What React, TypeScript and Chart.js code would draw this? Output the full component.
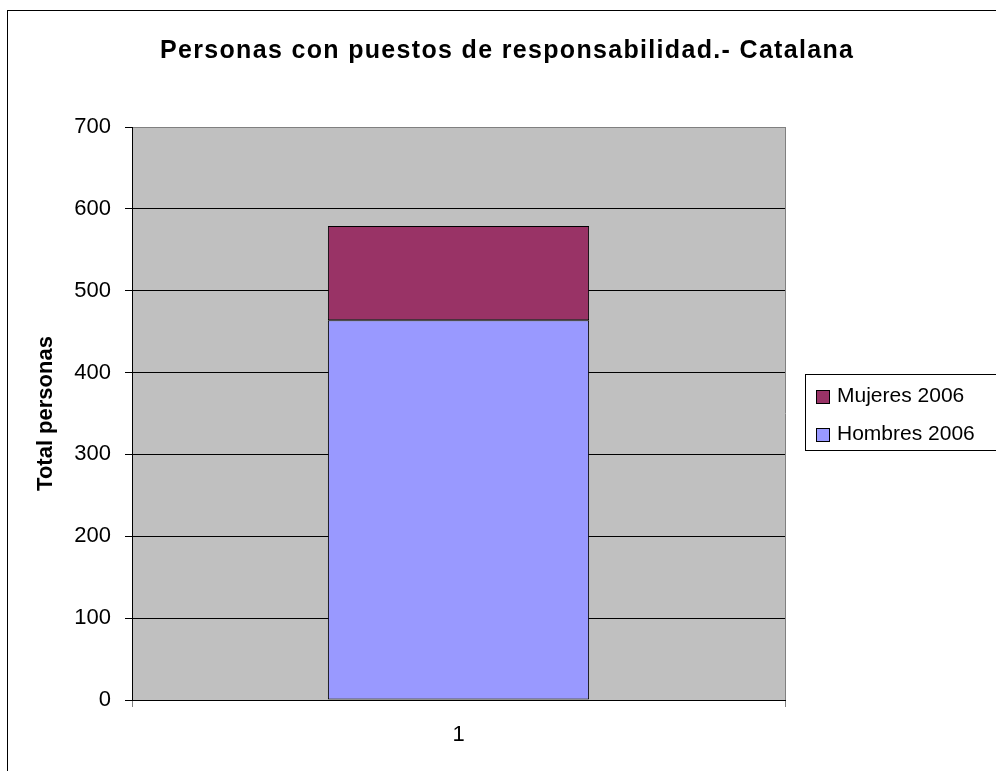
import React, { useEffect, useRef } from 'react';
import { Chart, registerables } from 'chart.js';

Chart.register(...registerables);

const chartTitle = 'Personas con puestos de responsabilidad.- Catalana';
const yAxisTitle = 'Total personas';
const categories = ['1'];
const hombres2006 = [464];
const mujeres2006 = [115];
const seriesNames = ['Hombres 2006', 'Mujeres 2006'];
const yMin = 0;
const yMax = 700;
const yStep = 100;

const FONT = '"Liberation Sans", Arial, sans-serif';

const decorPlugin = {
  id: 'decor',
  beforeDraw(chart: any) {
    const { ctx, chartArea: a } = chart;
    ctx.save();
    ctx.fillStyle = '#C0C0C0';
    ctx.fillRect(a.left, a.top, a.right - a.left, a.bottom - a.top);
    ctx.strokeStyle = '#000000';
    ctx.lineWidth = 1;
    ctx.strokeRect(7.5, 10.5, 1400, 1400);
    ctx.restore();
  },
  afterDraw(chart: any) {
    const { ctx } = chart;
    ctx.save();
    // Title
    ctx.font = `bold 25px ${FONT}`;
    ctx.fillStyle = '#000000';
    ctx.textBaseline = 'alphabetic';
    ctx.textAlign = 'left';
    const chars = Array.from(chartTitle);
    const widths = chars.map((c) => ctx.measureText(c).width);
    const natural = widths.reduce((s, w) => s + w, 0);
    const targetLeft = 160;
    const targetWidth = 693;
    const spacing = (targetWidth - natural) / (chars.length - 1);
    let x = targetLeft;
    chars.forEach((c, i) => {
      ctx.fillText(c, x, 58);
      x += widths[i] + spacing;
    });

    // Legend
    ctx.strokeStyle = '#000000';
    ctx.lineWidth = 1;
    ctx.strokeRect(805.5, 374.5, 400, 76);
    const items = chart.data.datasets.slice().reverse();
    const baselines = [401.5, 440];
    ctx.font = `21px ${FONT}`;
    items.forEach((ds: any, i: number) => {
      const b = baselines[i];
      const top = Math.round(b - 12);
      ctx.fillStyle = ds.backgroundColor;
      ctx.fillRect(816, top, 14, 14);
      ctx.strokeStyle = '#000000';
      ctx.strokeRect(816.5, top + 0.5, 13, 13);
      ctx.fillStyle = '#000000';
      ctx.fillText(ds.label, 837, b);
    });
    ctx.restore();
  },
};

export default function App() {
  const ref = useRef<HTMLCanvasElement | null>(null);

  useEffect(() => {
    if (!ref.current) return;
    const chart = new Chart(ref.current, {
      type: 'bar',
      data: {
        labels: categories,
        datasets: [
          {
            label: seriesNames[0],
            data: hombres2006,
            backgroundColor: '#9999FF',
            borderColor: '#000000',
            borderWidth: 1,
            borderSkipped: false,
            barPercentage: 0.4,
            categoryPercentage: 1,
          },
          {
            label: seriesNames[1],
            data: mujeres2006,
            backgroundColor: '#993366',
            borderColor: '#000000',
            borderWidth: 1,
            borderSkipped: false,
            barPercentage: 0.4,
            categoryPercentage: 1,
          },
        ],
      },
      options: {
        responsive: false,
        animation: false,
        events: [],
        layout: { padding: { left: 0, top: 127, right: 211, bottom: 0 } },
        plugins: {
          legend: { display: false },
          title: { display: false },
          tooltip: { enabled: false },
        },
        scales: {
          x: {
            stacked: true,
            offset: true,
            grid: {
              offset: true,
              color: '#808080',
              tickColor: '#808080',
              tickLength: 7,
              lineWidth: 1,
            },
            border: { display: true, color: '#000000', width: 1 },
            ticks: {
              color: '#000000',
              font: { family: FONT, size: 22 },
              padding: 15,
            },
            afterFit: (s: any) => {
              s.height = 71;
            },
          },
          y: {
            stacked: true,
            min: yMin,
            max: yMax,
            ticks: {
              stepSize: yStep,
              color: '#000000',
              font: { family: FONT, size: 22 },
              padding: 14,
            },
            grid: {
              color: (c: any) => (c.tick && c.tick.value === yMax ? '#808080' : '#000000'),
              tickColor: '#000000',
              tickLength: 7,
              lineWidth: 1,
            },
            border: { display: true, color: '#000000', width: 1 },
            title: {
              display: true,
              text: yAxisTitle,
              color: '#000000',
              font: { family: FONT, size: 22, weight: 'bold' },
              padding: { top: 33, bottom: 0 },
            },
            afterFit: (s: any) => {
              s.width = 132;
            },
          },
        },
      },
      plugins: [decorPlugin],
    } as any);
    return () => chart.destroy();
  }, []);

  return (
    <div style={{ position: 'absolute', left: 0, top: 0, width: 996, height: 771, overflow: 'hidden', background: '#ffffff' }}>
      <canvas ref={ref} width={996} height={771} style={{ display: 'block', width: 996, height: 771 }} />
    </div>
  );
}
